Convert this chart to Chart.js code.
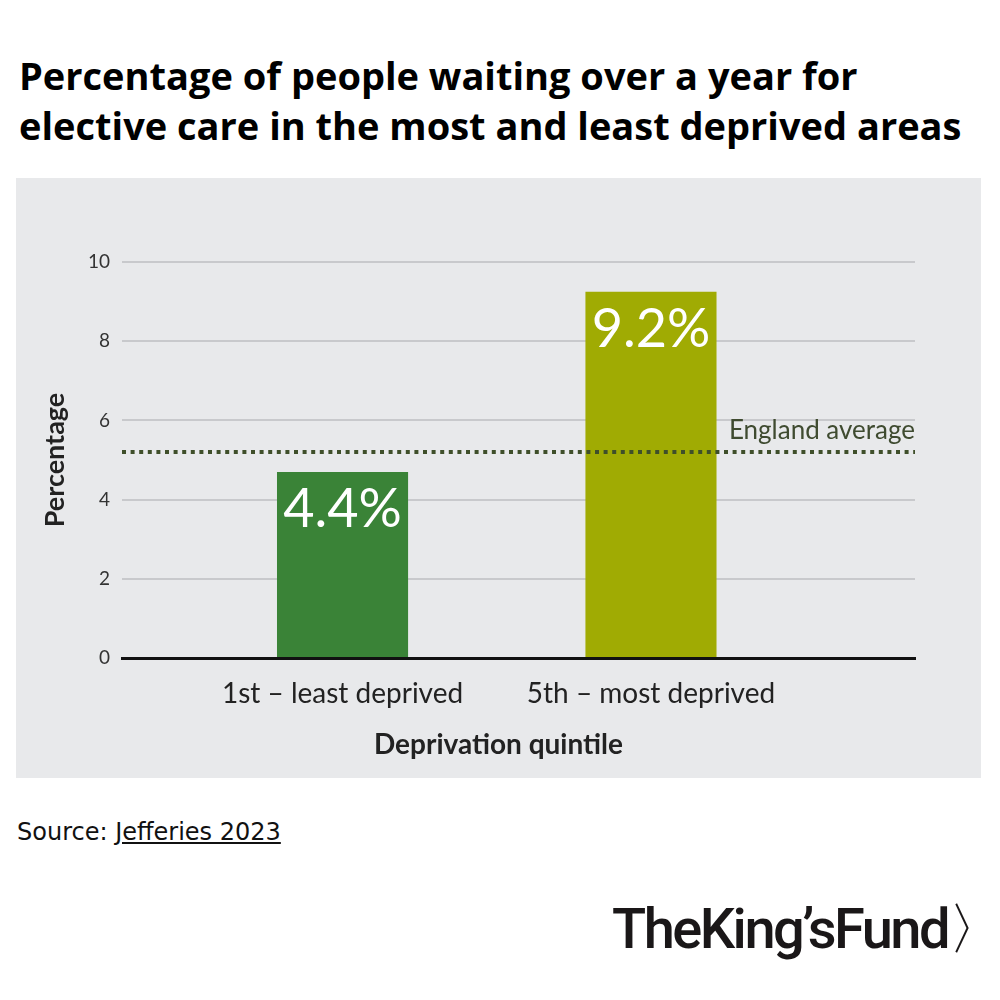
<!DOCTYPE html>
<html>
<head>
<meta charset="utf-8">
<script src="https://cdn.jsdelivr.net/npm/chart.js@4.4.0/dist/chart.umd.min.js"></script>
<style>
  body { margin: 0; background: #fff; width: 1000px; height: 1000px; position: relative; overflow: hidden; }
  #title { position: absolute; left: 19px; top: 50px; font-family: 'Open Sans', sans-serif; font-weight: 700;
           font-size: 38px; line-height: 50px; color: #000; white-space: nowrap; }
  #panel { position: absolute; left: 16px; top: 178px; width: 965px; height: 600px; background: #e8e9eb; }
  #source { position: absolute; left: 17px; top: 818px; font-family: 'DejaVu Sans', sans-serif; font-size: 24px; color: #111; }
  #source span { text-decoration: underline; }
  #logo { position: absolute; left: 612px; top: 892px; font-family: Roboto, sans-serif; font-weight: 500;
          font-size: 56px; letter-spacing: -2.5px; color: #1a1718; white-space: nowrap; }
</style>
</head>
<body>
<div id="title">Percentage of people waiting over a year for<br>elective care in the most and least deprived areas</div>
<div id="panel"><canvas id="chart" width="965" height="600"></canvas></div>
<div id="source">Source: <span>Jefferies 2023</span></div>
<div id="logo">TheKing’sFund〉</div>
<script>
// values
const categories = ['1st – least deprived', '5th – most deprived'];
const categoryX = [1, 2];
const barValues = [4.7, 9.25];
const barLabels = ['4.4%', '9.2%'];
const barColors = ['#3a8337', '#a0ab03'];
const englandAverage = 5.2;
const xMin = 0.285;
const xMax = 2.856;

Chart.defaults.font.family = 'Lato';
Chart.defaults.color = '#333';

const labelPlugin = {
    id: 'labels',
    afterDatasetsDraw(chart) {
        const ctx = chart.ctx;
        const meta = chart.getDatasetMeta(1);
        ctx.save();
        ctx.fillStyle = '#fff';
        ctx.font = '54px Lato';
        ctx.textAlign = 'center';
        ctx.textBaseline = 'middle';
        meta.data.forEach((bar, i) => {
            ctx.fillText(barLabels[i], bar.x, bar.y + 38);
        });
        // England average label
        const y = chart.scales.y.getPixelForValue(englandAverage);
        ctx.fillStyle = '#3f4b30';
        ctx.font = '26px Lato';
        ctx.textAlign = 'right';
        ctx.textBaseline = 'alphabetic';
        ctx.fillText('England average', chart.chartArea.right, y - 13);
        // x axis title, centred on the whole panel
        ctx.fillStyle = '#222';
        ctx.font = 'bold 28px Lato';
        ctx.textAlign = 'center';
        ctx.textBaseline = 'middle';
        ctx.fillText('Deprivation quintile', chart.width / 2, 567);
        ctx.restore();
    }
};

new Chart(document.getElementById('chart'), {
    type: 'bar',
    data: {
        datasets: [{
            type: 'line',
            data: [{ x: xMin, y: englandAverage }, { x: xMax, y: englandAverage }],
            borderColor: '#3f4f2a',
            borderWidth: 4,
            borderDash: [4, 4.6],
            pointRadius: 0,
            order: 0
        }, {
            data: categoryX.map((x, i) => ({ x: x, y: barValues[i] })),
            backgroundColor: barColors,
            barPercentage: 0.425,
            categoryPercentage: 1,
            order: 1
        }]
    },
    options: {
        responsive: false,
        animation: false,
        layout: { padding: { left: 0, right: 66, top: 84, bottom: 0 } },
        plugins: {
            legend: { display: false },
            tooltip: { enabled: false }
        },
        scales: {
            x: {
                type: 'linear',
                min: xMin,
                max: xMax,
                offset: false,
                grid: { display: false, drawTicks: false },
                border: { display: true, color: '#111', width: 3, z: 1 },
                afterBuildTicks: axis => { axis.ticks = categoryX.map(v => ({ value: v })); },
                afterFit: axis => { axis.height = 120; },
                ticks: {
                    autoSkip: false,
                    maxRotation: 0,
                    padding: 19,
                    color: '#222',
                    font: { size: 28 },
                    callback: v => categories[categoryX.indexOf(v)]
                }
            },
            y: {
                min: 0,
                max: 10,
                grid: { color: '#c8c9cc', lineWidth: 2, drawTicks: false },
                border: { display: false },
                afterFit: axis => { axis.width = 106; },
                ticks: { stepSize: 2, padding: 12, color: '#333', font: { size: 19 } },
                title: {
                    display: true,
                    text: 'Percentage',
                    color: '#222',
                    font: { size: 27, weight: 'bold' },
                    padding: { top: 23, bottom: 0 }
                }
            }
        }
    },
    plugins: [labelPlugin]
});
</script>
</body>
</html>
